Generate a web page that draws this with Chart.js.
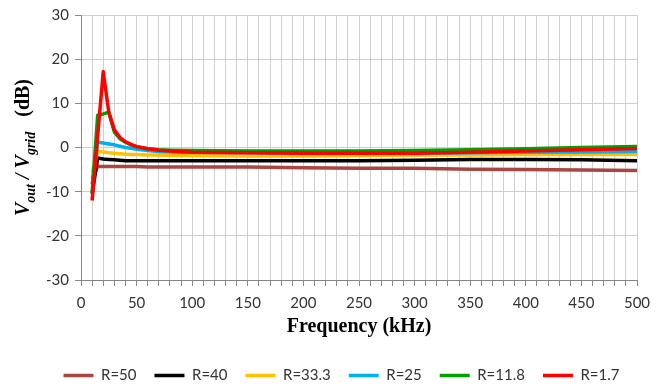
<!DOCTYPE html>
<html>
<head>
<meta charset="utf-8">
<script src="https://cdn.jsdelivr.net/npm/chart.js@4"></script>
<style>
  html, body { margin: 0; padding: 0; background: #fff; }
</style>
</head>
<body>
<canvas id="myChart" width="667" height="389"></canvas>
<script>
// Frequência (kHz)
const freq = [10, 15, 20, 25, 30, 35, 40, 45, 50, 60, 70, 80, 100, 150, 200, 250, 300, 350, 400, 450, 500];

// Séries (dB)
const r50   = [-7.0, -4.3, -4.3, -4.3, -4.3, -4.3, -4.3, -4.3, -4.3, -4.4, -4.4, -4.4, -4.4, -4.4, -4.6, -4.7, -4.7, -4.9, -5.0, -5.1, -5.2];
const r40   = [-10.5, -2.4, -2.6, -2.7, -2.8, -2.9, -3.0, -3.0, -3.0, -3.0, -3.0, -3.0, -3.0, -3.0, -3.0, -3.0, -2.9, -2.7, -2.7, -2.8, -3.0];
const r33   = [-5.7, -0.9, -1.0, -1.2, -1.3, -1.4, -1.5, -1.6, -1.6, -1.7, -1.7, -1.8, -1.8, -1.9, -1.9, -1.8, -1.7, -1.7, -1.6, -1.6, -1.6];
const r25   = [-8.3, 1.2, 1.0, 0.8, 0.6, 0.3, 0.0, -0.2, -0.4, -0.7, -0.9, -1.0, -1.1, -1.2, -1.3, -1.3, -1.3, -1.2, -1.1, -1.0, -0.9];
const r11   = [-10.2, 7.3, 7.6, 8.0, 3.5, 2.0, 1.2, 0.6, 0.2, -0.3, -0.5, -0.6, -0.7, -0.8, -0.8, -0.8, -0.7, -0.5, -0.3, 0.0, 0.2];
const r1    = [-12.0, 2.6, 17.2, 8.0, 4.0, 2.3, 1.3, 0.7, 0.2, -0.3, -0.6, -0.8, -1.1, -1.2, -1.3, -1.3, -1.3, -1.1, -0.8, -0.5, -0.2];

const names  = ["R=50", "R=40", "R=33.3", "R=25", "R=11.8", "R=1.7"];
const series = [r50, r40, r33, r25, r11, r1];
const colors = ["#A94644", "#000000", "#FFC000", "#00B0F0", "#00A000", "#FF0000"];

const datasets = series.map((vals, i) => ({
    label: names[i],
    data: freq.map((f, j) => ({ x: f, y: vals[j] })),
    borderColor: colors[i],
    backgroundColor: colors[i],
    borderWidth: 3.5,
    borderJoinStyle: 'round',
    pointRadius: 0,
    fill: false,
    tension: 0,
    order: series.length - 1 - i   // vermelho por cima
}));

// Títulos dos eixos (com subscrito)
const axisTitles = {
    id: 'axisTitles',
    afterLayout(chart) {
        // legenda centrada na largura toda, como no original
        chart.legend.left += 23;
        chart.legend.right += 23;
    },
    afterDraw(chart) {
        const c = chart.ctx;
        const a = chart.chartArea;
        c.save();
        c.fillStyle = '#000';
        c.font = 'bold 20px "Liberation Serif"';
        c.textAlign = 'center';
        c.textBaseline = 'middle';
        c.fillText('Frequency (kHz)', (a.left + a.right) / 2, 327);
        c.restore();

        const big = 'italic bold 20px "Liberation Serif"';
        const sub = 'italic bold 14px "Liberation Serif"';
        const parts = [
            { t: 'V', f: big, d: 0 },
            { t: 'out', f: sub, d: 6 },
            { t: ' / ', f: big, d: 0 },
            { t: 'V', f: big, d: 0 },
            { t: 'grid', f: sub, d: 6 },
            { t: '   (dB)', f: 'bold 20px "Liberation Serif"', d: 0 }
        ];
        c.save();
        let total = 0;
        parts.forEach(p => { c.font = p.f; p.w = c.measureText(p.t).width; total += p.w; });
        c.translate(29, (a.top + a.bottom) / 2);
        c.rotate(-Math.PI / 2);
        c.fillStyle = '#000';
        c.textBaseline = 'alphabetic';
        let x = -total / 2;
        parts.forEach(p => { c.font = p.f; c.fillText(p.t, x, p.d); x += p.w; });
        c.restore();
    }
};

const tickFont = { family: 'Lato', size: 15 };
const gridStyle = {
    color: '#CFCFCF',
    borderDash: [3, 3],
    tickBorderDash: [],
    tickColor: '#868686',
    tickLength: 6
};

const ctx = document.getElementById('myChart').getContext('2d');
new Chart(ctx, {
    type: 'line',
    data: { datasets: datasets },
    options: {
        responsive: false,
        animation: false,
        layout: { padding: { left: 0, right: 30, top: 12, bottom: -4 } },
        plugins: {
            legend: {
                position: 'bottom',
                labels: {
                    usePointStyle: true,
                    pointStyle: 'line',
                    pointStyleWidth: 30,
                    boxHeight: 15,
                    padding: 18,
                    color: '#333',
                    font: tickFont,
                    sort: (a, b) => a.datasetIndex - b.datasetIndex
                }
            },
            tooltip: { enabled: false }
        },
        scales: {
            x: {
                type: 'linear',
                min: 0,
                max: 500,
                grid: gridStyle,
                border: { display: true, color: '#868686', width: 1 },
                ticks: {
                    stepSize: 10,
                    autoSkip: false,
                    maxRotation: 0,
                    padding: 8,
                    color: '#333',
                    font: tickFont,
                    callback: v => (v % 50 === 0 ? v : '')
                },
                afterFit: s => { s.height = 70; }
            },
            y: {
                min: -30,
                max: 30,
                grid: gridStyle,
                border: { display: true, color: '#868686', width: 1 },
                ticks: {
                    stepSize: 10,
                    padding: 6,
                    color: '#333',
                    font: tickFont
                },
                afterFit: s => { s.width = 81; }
            }
        }
    },
    plugins: [axisTitles]
});
</script>
</body>
</html>
